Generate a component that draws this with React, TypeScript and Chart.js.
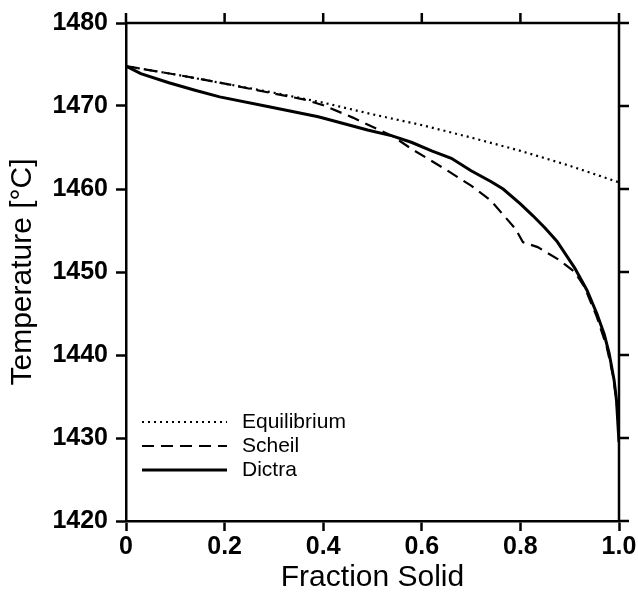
import React, { useEffect, useRef } from 'react';
import { Chart, registerables } from 'chart.js';

Chart.register(...registerables);

const FONT = "'Liberation Sans', Arial, Helvetica, sans-serif";

// Equilibrium (lever rule)
const fractionEq = [0, 0.1, 0.2, 0.3, 0.4, 0.5, 0.6, 0.7, 0.8, 0.9, 1.0];
const tempEq = [1474.8, 1473.8, 1472.7, 1471.6, 1470.4, 1469.0, 1467.7, 1466.2, 1464.6, 1462.8, 1460.8];

// Scheil
const fractionScheil = [0, 0.1, 0.2, 0.3, 0.36, 0.4, 0.46, 0.54, 0.58, 0.65, 0.7, 0.74, 0.765, 0.79, 0.805, 0.835, 0.88, 0.91, 0.93, 0.955, 0.975, 0.988, 0.995, 0.998];
const tempScheil = [1474.8, 1473.8, 1472.7, 1471.5, 1470.8, 1470.1, 1468.6, 1466.4, 1464.8, 1462.3, 1460.4, 1458.6, 1456.9, 1455.2, 1453.6, 1453.0, 1451.4, 1450.0, 1448.2, 1444.6, 1441.0, 1437.5, 1434.5, 1432.5];

// Dictra
const fractionDictra = [0, 0.03, 0.087, 0.14, 0.19, 0.29, 0.39, 0.49, 0.54, 0.58, 0.62, 0.66, 0.7, 0.74, 0.765, 0.8, 0.825, 0.85, 0.874, 0.91, 0.935, 0.955, 0.97, 0.98, 0.99, 0.995, 1.0];
const tempDictra = [1474.8, 1473.9, 1472.8, 1471.9, 1471.1, 1469.9, 1468.7, 1467.1, 1466.4, 1465.6, 1464.6, 1463.7, 1462.2, 1460.9, 1460.0, 1458.2, 1456.8, 1455.3, 1453.7, 1450.5, 1447.8, 1445.0, 1442.5, 1440.2, 1437.0, 1434.5, 1429.5];

const xTicks = [0, 0.2, 0.4, 0.6, 0.8, 1.0];
const xTickLabels = ['0', '0.2', '0.4', '0.6', '0.8', '1.0'];
const yTicks = [1420, 1430, 1440, 1450, 1460, 1470, 1480];
const yTickLabels = ['1420', '1430', '1440', '1450', '1460', '1470', '1480'];

const seriesNames = ['Equilibrium', 'Scheil', 'Dictra'];
const seriesDash = [[2, 4], [12, 7], []];
const seriesWidth = [2.2, 2.2, 3];

const toPoints = (xs: number[], ys: number[]) => xs.map((x, i) => ({ x, y: ys[i] }));

const framePlugin = {
  id: 'frameAndLegend',
  afterDraw(chart: any) {
    const { ctx, chartArea } = chart;
    const { left, right, top, bottom } = chartArea;
    const xs = chart.scales.x;
    const ys = chart.scales.y;
    ctx.save();
    ctx.strokeStyle = '#000';
    ctx.lineWidth = 2.5;
    ctx.setLineDash([]);
    ctx.beginPath();
    ctx.moveTo(left, top);
    ctx.lineTo(right, top);
    ctx.moveTo(right, top);
    ctx.lineTo(right, bottom);
    xTicks.forEach((v) => {
      const px = xs.getPixelForValue(v);
      ctx.moveTo(px, top);
      ctx.lineTo(px, top - 10);
    });
    yTicks.forEach((v) => {
      const py = ys.getPixelForValue(v);
      ctx.moveTo(right, py);
      ctx.lineTo(right + 10, py);
    });
    ctx.stroke();

    // legend inside plot area
    const rowY = [bottom - 99, bottom - 75, bottom - 51];
    const x0 = left + 16;
    const x1 = left + 101;
    ctx.font = `21px ${FONT}`;
    ctx.fillStyle = '#000';
    ctx.textBaseline = 'middle';
    ctx.textAlign = 'left';
    seriesNames.forEach((name, i) => {
      ctx.beginPath();
      ctx.lineWidth = seriesWidth[i];
      ctx.setLineDash(seriesDash[i]);
      ctx.moveTo(x0, rowY[i]);
      ctx.lineTo(x1, rowY[i]);
      ctx.stroke();
      ctx.fillText(name, x1 + 15, rowY[i]);
    });
    ctx.restore();
  },
};

export default function App() {
  const canvasRef = useRef<HTMLCanvasElement | null>(null);

  useEffect(() => {
    if (!canvasRef.current) return;
    const chart = new Chart(canvasRef.current, {
      type: 'scatter',
      data: {
        datasets: [
          {
            label: seriesNames[2],
            data: toPoints(fractionDictra, tempDictra),
            showLine: true,
            borderColor: '#000',
            borderWidth: seriesWidth[2],
            borderDash: seriesDash[2],
            pointRadius: 0,
            tension: 0,
          },
          {
            label: seriesNames[1],
            data: toPoints(fractionScheil, tempScheil),
            showLine: true,
            borderColor: '#000',
            borderWidth: seriesWidth[1],
            borderDash: seriesDash[1],
            pointRadius: 0,
            tension: 0,
          },
          {
            label: seriesNames[0],
            data: toPoints(fractionEq, tempEq),
            showLine: true,
            borderColor: '#000',
            borderWidth: seriesWidth[0],
            borderDash: seriesDash[0],
            pointRadius: 0,
            tension: 0,
          },
        ],
      },
      options: {
        animation: false,
        responsive: false,
        layout: { padding: { left: 0, right: 19, top: 23, bottom: 0 } },
        plugins: { legend: { display: false }, tooltip: { enabled: false } },
        scales: {
          x: {
            type: 'linear',
            min: 0,
            max: 1,
            afterBuildTicks: (s: any) => {
              s.ticks = xTicks.map((v) => ({ value: v }));
            },
            afterFit: (s: any) => {
              s.height = 75;
              s.paddingLeft = 0;
              s.paddingRight = 0;
            },
            ticks: {
              color: '#000',
              font: { family: FONT, size: 25, weight: 'bold' },
              padding: 1,
              maxRotation: 0,
              autoSkip: false,
              callback: (_v: any, i: number) => xTickLabels[i],
            },
            grid: { drawOnChartArea: false, drawTicks: true, tickLength: 10, tickWidth: 2.5, tickColor: '#000' },
            border: { display: true, color: '#000', width: 2.5 },
            title: { display: true, text: 'Fraction Solid', color: '#000', font: { family: FONT, size: 30 }, padding: { top: 0, bottom: 0 } },
          },
          y: {
            type: 'linear',
            min: 1420,
            max: 1480,
            afterBuildTicks: (s: any) => {
              s.ticks = yTicks.map((v) => ({ value: v }));
            },
            afterFit: (s: any) => {
              s.width = 126;
              s.paddingTop = 0;
              s.paddingBottom = 0;
            },
            ticks: {
              color: '#000',
              font: { family: FONT, size: 25, weight: 'bold' },
              padding: 8,
              autoSkip: false,
              callback: (_v: any, i: number) => yTickLabels[i],
            },
            grid: { drawOnChartArea: false, drawTicks: true, tickLength: 10, tickWidth: 2.5, tickColor: '#000' },
            border: { display: true, color: '#000', width: 2.5 },
            title: { display: true, text: 'Temperature [°C]', color: '#000', font: { family: FONT, size: 30 }, padding: { top: 5, bottom: 0 } },
          },
        },
      },
      plugins: [framePlugin],
    } as any);
    return () => chart.destroy();
  }, []);

  return (
    <div style={{ position: 'fixed', left: 0, top: 0, width: 638, height: 596, background: '#fff' }}>
      <canvas ref={canvasRef} width={638} height={596} style={{ display: 'block', width: 638, height: 596 }} />
    </div>
  );
}
